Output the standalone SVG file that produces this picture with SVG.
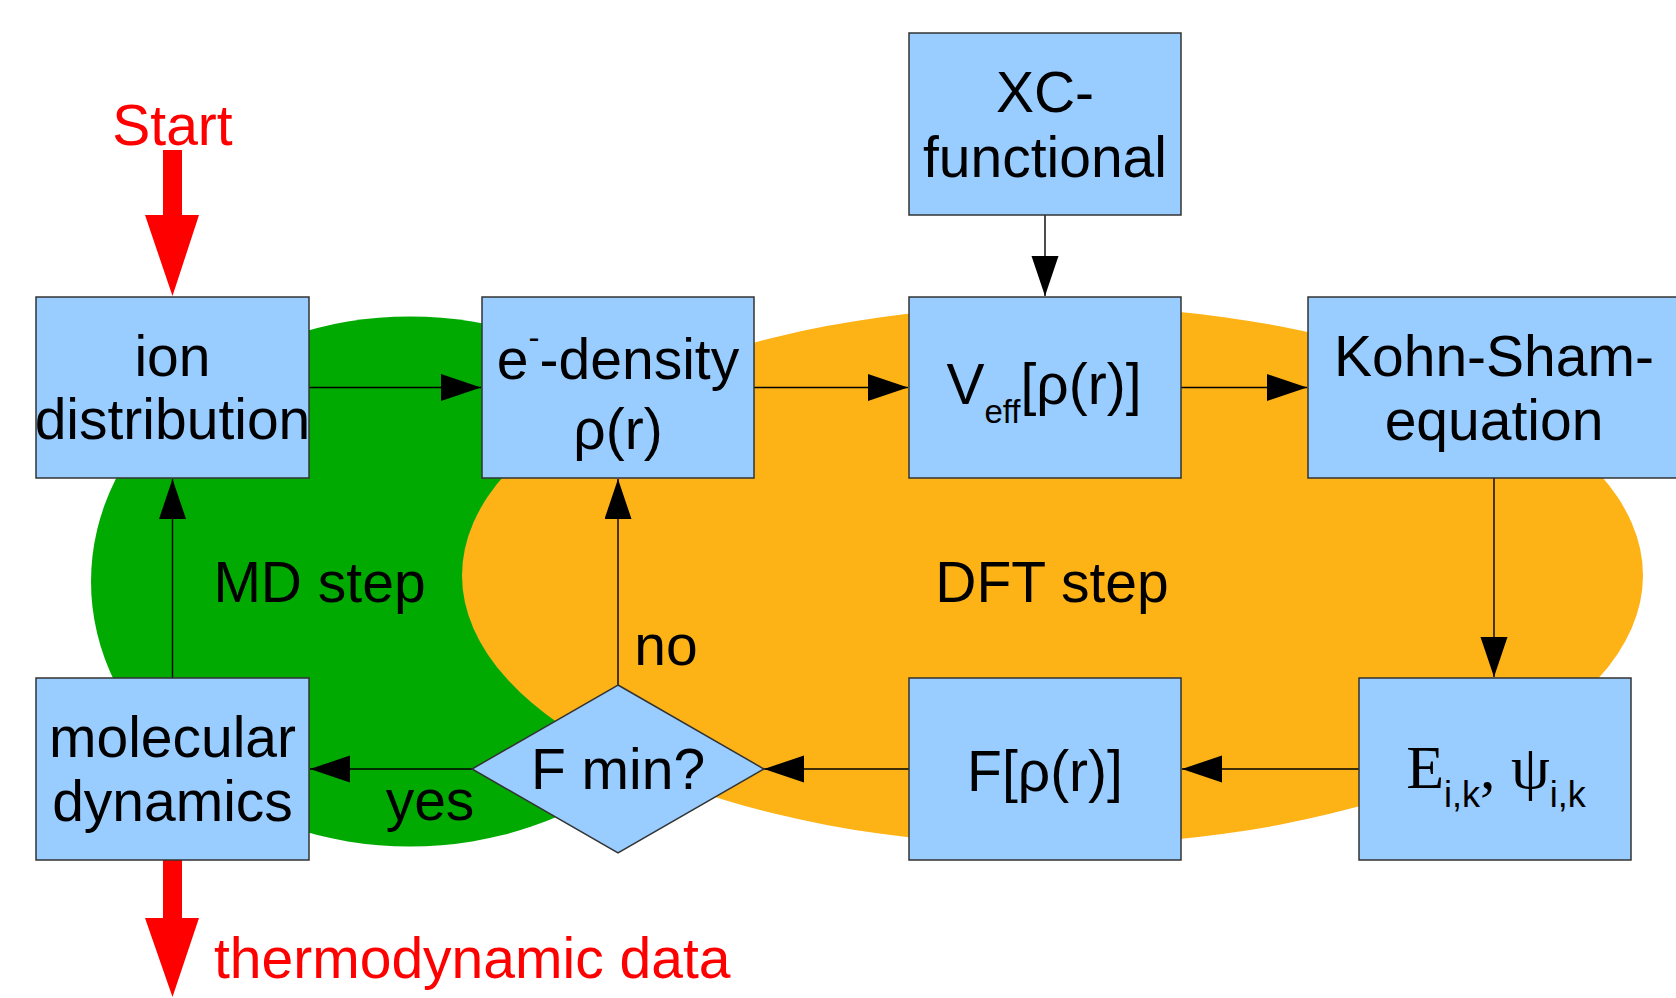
<svg xmlns="http://www.w3.org/2000/svg" width="1676" height="998" viewBox="0 0 1676 998">
<defs>
<style>
.t{font-family:"Liberation Sans",Arial,sans-serif;font-size:57px;fill:#000;text-anchor:middle}
.s{font-family:"Liberation Serif","Times New Roman",serif;font-size:62px}
.red{fill:#FF0000}
.box{fill:#99CCFF;stroke:#333;stroke-width:1.5}
.con{stroke:#000;stroke-width:1.4;fill:none}
</style>
<marker id="ah" markerUnits="userSpaceOnUse" markerWidth="41" markerHeight="28" refX="40" refY="13.5" orient="auto">
<path d="M0,0 L40,13.5 L0,27 z" fill="#000"/>
</marker>
</defs>
<rect width="1676" height="998" fill="#fff"/>
<g id="md-step">
<ellipse cx="410" cy="581.5" rx="319" ry="265" fill="#00AA00"/>
</g>
<g id="dft-step">
<ellipse cx="1052.5" cy="575.5" rx="590.5" ry="270" fill="#FDB216"/>
</g>
<text class="t" x="319.5" y="602">MD step</text>
<text class="t" x="1052" y="602">DFT step</text>
<g id="connectors">
<line class="con" x1="309" y1="387.5" x2="481" y2="387.5" marker-end="url(#ah)"/>
<line class="con" x1="754" y1="387.5" x2="908" y2="387.5" marker-end="url(#ah)"/>
<line class="con" x1="1181" y1="387.5" x2="1307" y2="387.5" marker-end="url(#ah)"/>
<line class="con" x1="1045" y1="215" x2="1045" y2="296" marker-end="url(#ah)"/>
<line class="con" x1="1494" y1="478" x2="1494" y2="677" marker-end="url(#ah)"/>
<line class="con" x1="1359" y1="769" x2="1182" y2="769" marker-end="url(#ah)"/>
<line class="con" x1="909" y1="769" x2="764" y2="769" marker-end="url(#ah)"/>
<line class="con" x1="472" y1="769" x2="310" y2="769" marker-end="url(#ah)"/>
<line class="con" x1="618" y1="685" x2="618" y2="479" marker-end="url(#ah)"/>
<line class="con" x1="172.5" y1="678" x2="172.5" y2="479" marker-end="url(#ah)"/>
<polygon class="red" points="163,150 182,150 182,215 199,215 172.5,296 145,215 163,215"/>
<polygon class="red" points="163,860 182,860 182,918 199,918 172.5,997 145,918 163,918"/>
<text class="t" x="666" y="665">no</text>
<text class="t" x="430" y="820">yes</text>
</g>
<g id="start">
<text class="t red" x="172.5" y="145">Start</text>
</g>
<g id="thermo">
<text class="t red" x="214" y="978" style="text-anchor:start">thermodynamic data</text>
</g>
<g id="ion">
<rect class="box" x="36" y="297" width="273" height="181"/>
<text class="t" x="172.5" y="376">ion</text>
<text class="t" x="172.5" y="439">distribution</text>
</g>
<g id="density">
<rect class="box" x="482" y="297" width="272" height="181"/>
<text class="t" x="618" y="379">e<tspan font-size="33" dy="-30">-</tspan><tspan dy="30">-density</tspan></text>
<text class="t" x="618" y="449">ρ(r)</text>
</g>
<g id="xc">
<rect class="box" x="909" y="33" width="272" height="182"/>
<text class="t" x="1045" y="112">XC-</text>
<text class="t" x="1045" y="177">functional</text>
</g>
<g id="veff">
<rect class="box" x="909" y="297" width="272" height="181"/>
<text class="t" x="1044" y="404">V<tspan font-size="33" dy="19">eff</tspan><tspan dy="-19">[ρ(r)]</tspan></text>
</g>
<g id="kohn-sham">
<rect class="box" x="1308" y="297" width="380" height="181"/>
<text class="t" x="1494" y="376">Kohn-Sham-</text>
<text class="t" x="1494" y="440">equation</text>
</g>
<g id="eigen">
<rect class="box" x="1359" y="678" width="272" height="182"/>
<text class="t" x="1496" y="788"><tspan class="s">E</tspan><tspan font-size="36" dy="19">i,k</tspan><tspan class="s" dy="-19">,  ψ</tspan><tspan font-size="36" dy="19">i,k</tspan></text>
</g>
<g id="functional">
<rect class="box" x="909" y="678" width="272" height="182"/>
<text class="t" x="1045" y="791">F[ρ(r)]</text>
</g>
<g id="fmin">
<polygon class="box" points="618,685 764,769 618,853 472,769"/>
<text class="t" x="618" y="789">F min?</text>
</g>
<g id="md">
<rect class="box" x="36" y="678" width="273" height="182"/>
<text class="t" x="172.5" y="757">molecular</text>
<text class="t" x="172.5" y="821">dynamics</text>
</g>
</svg>
